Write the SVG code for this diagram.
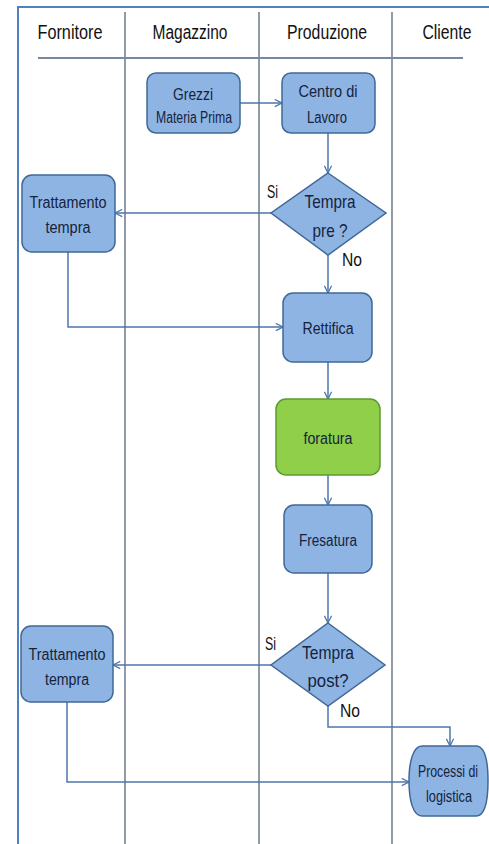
<svg xmlns="http://www.w3.org/2000/svg" width="489" height="844" viewBox="0 0 489 844">
  <style>
    .frame { fill: none; stroke: #4f81bd; stroke-width: 2; }
    .lane { fill: none; stroke: #4a566e; stroke-width: 1.2; }
    .head { fill: none; stroke: #7a889e; stroke-width: 2; }
    .hdr { font-family: "Liberation Sans", Arial, sans-serif; font-size: 20px; fill: #111; text-anchor: middle; }
    .box { fill: #8eb4e3; stroke: #3f6896; stroke-width: 1.5; }
    .green { fill: #8fcf4a; stroke: #5b9a2e; stroke-width: 1.5; }
    .lbl { font-family: "Liberation Sans", Arial, sans-serif; font-size: 16px; fill: #15233c; text-anchor: middle; }
    .dlbl { font-family: "Liberation Sans", Arial, sans-serif; font-size: 19px; fill: #15233c; text-anchor: middle; }
    .yn { font-family: "Liberation Sans", Arial, sans-serif; font-size: 19px; fill: #111; }
    .conn { fill: none; stroke: #4e76aa; stroke-width: 1.5; }
  </style>
  <defs>
    <marker id="arr" viewBox="0 0 10 10" refX="9" refY="5" markerWidth="9" markerHeight="9" markerUnits="userSpaceOnUse" orient="auto">
      <path d="M1,1 L9,5 L1,9" fill="none" stroke="#4e76aa" stroke-width="1.4"/>
    </marker>
  </defs>

  <!-- swimlane frame -->
  <g id="lanes">
    <path class="frame" d="M18,844 V7 H489"/>
    <line class="lane" x1="125" y1="12" x2="125" y2="844"/>
    <line class="lane" x1="259" y1="12" x2="259" y2="844"/>
    <line class="lane" x1="392" y1="12" x2="392" y2="844"/>
    <line class="head" x1="38" y1="58" x2="463" y2="58"/>
    <text class="hdr" x="70" y="39" textLength="65" lengthAdjust="spacingAndGlyphs">Fornitore</text>
    <text class="hdr" x="190" y="39" textLength="75" lengthAdjust="spacingAndGlyphs">Magazzino</text>
    <text class="hdr" x="327" y="39" textLength="80" lengthAdjust="spacingAndGlyphs">Produzione</text>
    <text class="hdr" x="447" y="39" textLength="49" lengthAdjust="spacingAndGlyphs">Cliente</text>
  </g>

  <!-- connectors -->
  <g id="connectors">
    <line class="conn" x1="240" y1="103" x2="282" y2="103" marker-end="url(#arr)"/>
    <line class="conn" x1="328" y1="133" x2="328" y2="173" marker-end="url(#arr)"/>
    <line class="conn" x1="271" y1="213" x2="115" y2="213" marker-end="url(#arr)"/>
    <line class="conn" x1="328" y1="255" x2="328" y2="293" marker-end="url(#arr)"/>
    <polyline class="conn" points="68,252 68,327 283,327" marker-end="url(#arr)"/>
    <line class="conn" x1="328" y1="362" x2="328" y2="399" marker-end="url(#arr)"/>
    <line class="conn" x1="328" y1="475" x2="328" y2="505" marker-end="url(#arr)"/>
    <line class="conn" x1="328" y1="573" x2="328" y2="623" marker-end="url(#arr)"/>
    <line class="conn" x1="271" y1="665" x2="113" y2="665" marker-end="url(#arr)"/>
    <polyline class="conn" points="328,706 328,727 450,727 450,746" marker-end="url(#arr)"/>
    <polyline class="conn" points="67,702 67,782 409,782" marker-end="url(#arr)"/>
  </g>

  <g id="grezzi">
    <rect class="box" x="147" y="73" width="93" height="60" rx="9"/>
    <text class="lbl" x="193" y="100" textLength="40" lengthAdjust="spacingAndGlyphs">Grezzi</text>
    <text class="lbl" x="194" y="123" font-size="14" textLength="76" lengthAdjust="spacingAndGlyphs">Materia Prima</text>
  </g>

  <g id="centro">
    <rect class="box" x="282" y="73" width="93" height="60" rx="9"/>
    <text class="lbl" x="328" y="97" textLength="59" lengthAdjust="spacingAndGlyphs">Centro di</text>
    <text class="lbl" x="327" y="123" textLength="40" lengthAdjust="spacingAndGlyphs">Lavoro</text>
  </g>

  <g id="tempra-pre">
    <polygon class="box" points="328,173 386,213 328,255 271,213"/>
    <text class="dlbl" x="330" y="208" textLength="51" lengthAdjust="spacingAndGlyphs">Tempra</text>
    <text class="dlbl" x="330" y="237" textLength="35" lengthAdjust="spacingAndGlyphs">pre ?</text>
    <text class="yn" x="267" y="198" textLength="11" lengthAdjust="spacingAndGlyphs">Si</text>
    <text class="yn" x="342" y="266" textLength="20" lengthAdjust="spacingAndGlyphs">No</text>
  </g>

  <g id="trattamento-1">
    <rect class="box" x="22" y="175" width="93" height="77" rx="10"/>
    <text class="lbl" x="68" y="208" textLength="77" lengthAdjust="spacingAndGlyphs">Trattamento</text>
    <text class="lbl" x="68" y="233" textLength="45" lengthAdjust="spacingAndGlyphs">tempra</text>
  </g>

  <g id="rettifica">
    <rect class="box" x="283" y="293" width="89" height="69" rx="10"/>
    <text class="lbl" x="328" y="334" textLength="51" lengthAdjust="spacingAndGlyphs">Rettifica</text>
  </g>

  <g id="foratura">
    <rect class="green" x="276" y="399" width="104" height="76" rx="10"/>
    <text class="lbl" x="328" y="444" textLength="49" lengthAdjust="spacingAndGlyphs">foratura</text>
  </g>

  <g id="fresatura">
    <rect class="box" x="284" y="505" width="88" height="68" rx="10"/>
    <text class="lbl" x="328" y="546" textLength="58" lengthAdjust="spacingAndGlyphs">Fresatura</text>
  </g>

  <g id="tempra-post">
    <polygon class="box" points="328,623 385,665 328,706 271,665"/>
    <text class="dlbl" x="328" y="659" textLength="52" lengthAdjust="spacingAndGlyphs">Tempra</text>
    <text class="dlbl" x="328" y="687" textLength="41" lengthAdjust="spacingAndGlyphs">post?</text>
    <text class="yn" x="265" y="650" textLength="11" lengthAdjust="spacingAndGlyphs">Si</text>
    <text class="yn" x="340" y="717" textLength="20" lengthAdjust="spacingAndGlyphs">No</text>
  </g>

  <g id="trattamento-2">
    <rect class="box" x="21" y="626" width="92" height="76" rx="10"/>
    <text class="lbl" x="67" y="660" textLength="77" lengthAdjust="spacingAndGlyphs">Trattamento</text>
    <text class="lbl" x="67" y="685" textLength="44" lengthAdjust="spacingAndGlyphs">tempra</text>
  </g>

  <g id="logistica">
    <path class="box" d="M422,746 H476 C485,746 488,762 488,781 C488,800 485,816 476,816 H422 C413,816 409,800 409,781 C409,762 413,746 422,746 Z"/>
    <text class="lbl" x="448" y="777" font-size="14" textLength="60" lengthAdjust="spacingAndGlyphs">Processi di</text>
    <text class="lbl" x="449" y="802" font-size="15" textLength="46" lengthAdjust="spacingAndGlyphs">logistica</text>
  </g>
</svg>
